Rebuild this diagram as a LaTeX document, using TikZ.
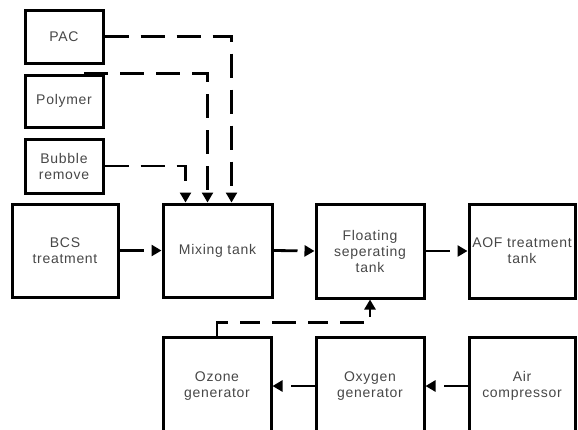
\documentclass[tikz,border=0pt]{standalone}
\usepackage{fontspec}
\setmainfont[LetterSpace=5]{Liberation Sans}
\usetikzlibrary{arrows.meta,calc}
\begin{document}
\begin{tikzpicture}[x=1pt,y=-1pt,
  blk/.style={draw,line width=3pt,rectangle,inner sep=0pt,align=center,
    text=black!72,font=\fontsize{14}{16}\selectfont},
  conn/.style={line width=2.8pt,dash pattern=on 24pt off 12pt,
    -{Triangle[length=10pt,width=11pt]}}]
\useasboundingbox (0,0) rectangle (578,429);
\clip (0,0) rectangle (578,429);
% top inputs
\node[blk,minimum width=78pt,minimum height=53pt] (pac) at (64,36.5) {PAC};
\node[blk,minimum width=78pt,minimum height=52pt] (polymer) at (64,101) {Polymer};
\node[blk,minimum width=78pt,minimum height=54pt] (bubble) at (64,166) {Bubble\\remove};
% main row
\node[blk,minimum width=106pt,minimum height=93pt] (bcs) at (65,250.5) {BCS\\treatment};
\node[blk,minimum width=109pt,minimum height=93pt] (mix) at (217.5,250.5) {Mixing tank};
\node[blk,minimum width=108pt,minimum height=94pt] (float) at (370,251) {Floating\\seperating\\tank};
\node[blk,minimum width=106pt,minimum height=94pt] (aof) at (522,251) {AOF treatment\\tank};
% bottom row (cut off at the bottom edge)
\node[blk,minimum width=108pt,minimum height=98pt] (ozone) at (217,386) {Ozone\\generator};
\node[blk,minimum width=108pt,minimum height=98pt] (oxygen) at (370,386) {Oxygen\\generator};
\node[blk,minimum width=106pt,minimum height=98pt] (air) at (522,386) {Air\\compressor};
% connection points
\coordinate (mixA) at ($(mix.north west)+(24,0)$);
\coordinate (mixB) at ($(mix.north west)+(46,0)$);
\coordinate (mixC) at ($(mix.north west)+(70,0)$);
\coordinate (polyStart) at ($(polymer.north west)!0.75!(polymer.north east)$);
\coordinate (ozBend) at ($(ozone.north)+(0,-13)$);
% connectors
\draw[conn] (pac.east) -| (mixC);
\draw[conn] (polyStart) -| (mixB);
\draw[conn] (bubble.east) -| (mixA);
\draw[conn] (bcs.east) -- (mix.west);
\draw[conn] (mix.east) -- (float.west);
\draw[conn] (float.east) -- (aof.west);
\draw[conn] (air.west) -- (oxygen.east);
\draw[conn] (oxygen.west) -- (ozone.east);
\draw[conn,dash pattern=on 24pt off 12pt on 20pt off 12pt] (ozone.north) -- (ozBend) -| (float.south);
\end{tikzpicture}
\end{document}
